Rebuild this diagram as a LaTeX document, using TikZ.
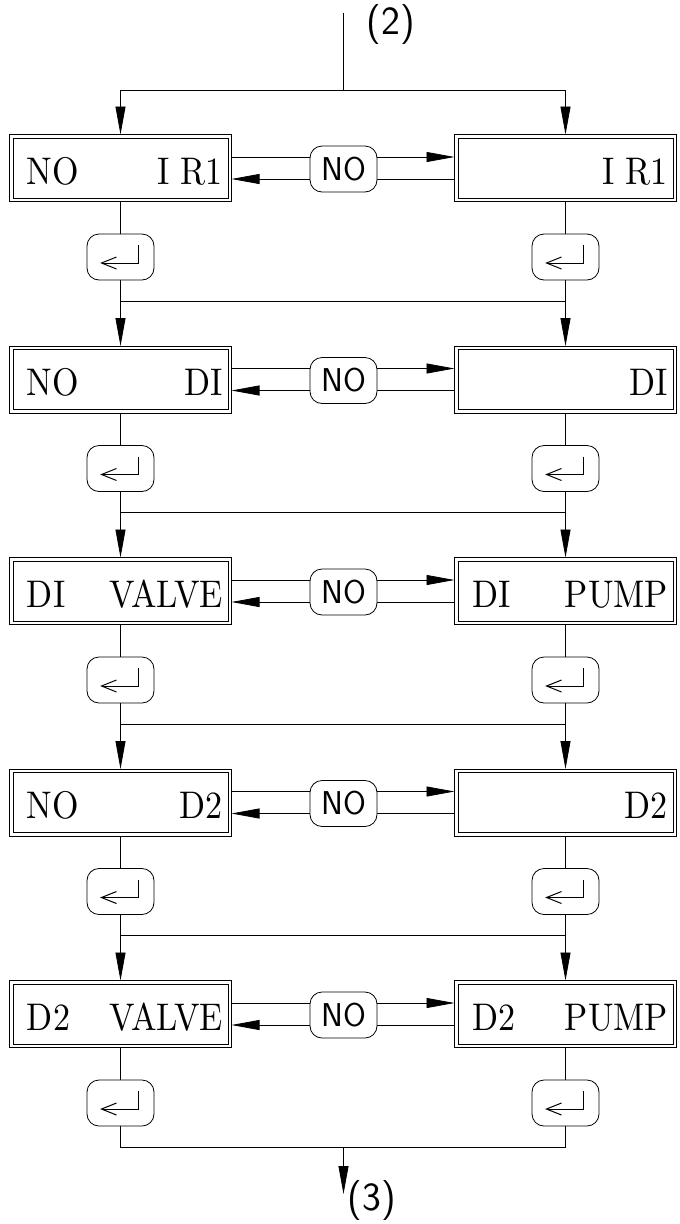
\documentclass[tikz,border=0pt]{standalone}
\usepackage{fontspec}
\usepackage{graphicx}
\newfontfamily\screenfont{lmroman10-regular.otf}
\usetikzlibrary{arrows.meta}
\newcommand\screentext[2]{\makebox[205pt]{\hspace{9pt}\scalebox{0.92}[1.04]{#1}\hfill\scalebox{0.92}[1.04]{#2}}}
\newcommand\entersym[1]{%
  \draw[line width=1pt] ([shift={(18,-12)}]#1.center) -- ([shift={(18,6)}]#1.center) -- ([shift={(-19,6)}]#1.center);
  \draw[line width=1pt] ([shift={(-4,0)}]#1.center) -- ([shift={(-19,6)}]#1.center) -- ([shift={(-4,12)}]#1.center);}
\newcommand\innerframe[1]{%
  \draw[line width=0.8pt] ([shift={(3.6,3.6)}]#1.north west) rectangle ([shift={(-3.6,-3.6)}]#1.south east);}
\begin{document}
\begin{tikzpicture}[x=1pt,y=-1pt,
  line width=0.8pt,
  screen/.style={draw, line width=0.8pt, outer sep=0pt,
    minimum width=222pt, minimum height=67pt, inner sep=0pt,
    text height=32pt, text depth=0pt, font=\screenfont\fontsize{37}{37}\selectfont},
  key/.style={draw, rounded corners=12pt, minimum width=67pt, minimum height=46pt,
    inner sep=0pt, fill=white, font=\sffamily\fontsize{33}{33}\selectfont},
  label/.style={inner sep=0pt, font=\sffamily\fontsize{40}{40}\selectfont},
  arr/.style={-{Triangle[length=28pt,width=10pt]}},
]
\useasboundingbox (0,0) rectangle (680,1224);

% screens
\node[screen] (L0) at (120.5,168)    {\screentext{NO}{I R1}};
\node[screen] (R0) at (565.5,168)    {\screentext{}{I R1}};
\node[screen] (L1) at (120.5,379.5)  {\screentext{NO}{DI}};
\node[screen] (R1) at (565.5,379.5)  {\screentext{}{DI}};
\node[screen] (L2) at (120.5,591)    {\screentext{DI}{VALVE}};
\node[screen] (R2) at (565.5,591)    {\screentext{DI}{PUMP}};
\node[screen] (L3) at (120.5,802.5)  {\screentext{NO}{D2}};
\node[screen] (R3) at (565.5,802.5)  {\screentext{}{D2}};
\node[screen] (L4) at (120.5,1014)   {\screentext{D2}{VALVE}};
\node[screen] (R4) at (565.5,1014)   {\screentext{D2}{PUMP}};

% top entry
\coordinate (top) at (343.5,13);
\coordinate (T0) at (343.5,90);
\coordinate (TL) at (120.5,90);
\coordinate (TR) at (565.5,90);
\draw (top) -- (T0);
\draw (TL) -- (TR);
\draw[arr] (TL) -- (L0.north);
\draw[arr] (TR) -- (R0.north);
\node[label] (in2) at (391,25) {(2)};

\foreach \k in {0,...,4}{
  \pgfmathsetmacro\T{134+211.5*\k}
  \innerframe{L\k}
  \innerframe{R\k}
  \draw[arr] ([yshift=11pt]L\k.east) -- ([yshift=11pt]R\k.west);
  \draw[arr] ([yshift=-11pt]R\k.west) -- ([yshift=-11pt]L\k.east);
  \node[key] (N\k) at (343.5,\T+35) {NO};
  \node[key] (EL\k) at (120.5,\T+123) {};
  \node[key] (ER\k) at (565.5,\T+123) {};
  \draw (L\k.south) -- (EL\k.north);
  \draw (R\k.south) -- (ER\k.north);
  \entersym{EL\k}
  \entersym{ER\k}
}

\foreach \k in {0,...,3}{
  \pgfmathsetmacro\T{134+211.5*\k}
  \pgfmathtruncatemacro\nx{\k+1}
  \coordinate (JL\k) at (120.5,\T+167);
  \coordinate (JR\k) at (565.5,\T+167);
  \draw (JL\k) -- (JR\k);
  \draw[arr] (EL\k.south) -- (L\nx.north);
  \draw[arr] (ER\k.south) -- (R\nx.north);
}

% bottom exit
\coordinate (BL) at (120.5,1147);
\coordinate (BR) at (565.5,1147);
\coordinate (BM) at (343.5,1147);
\coordinate (out) at (343.5,1194);
\draw (EL4.south) -- (BL) -- (BR) -- (ER4.south);
\draw[arr] (BM) -- (out);
\node[label] (out3) at (372,1201) {(3)};
\end{tikzpicture}
\end{document}
